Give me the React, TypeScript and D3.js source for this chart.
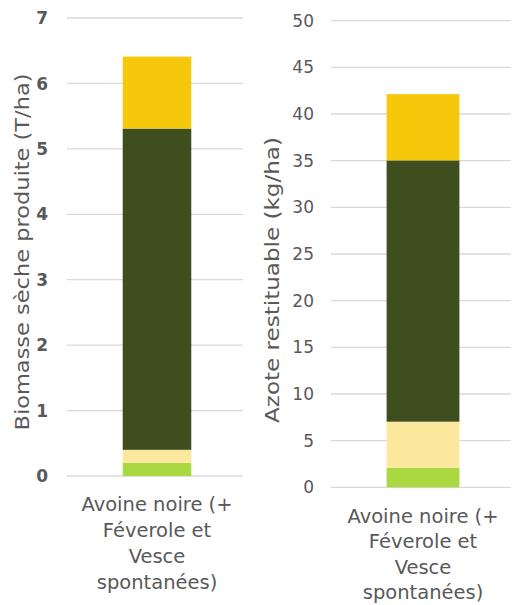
import React, { useEffect, useRef } from 'react';
import * as d3 from 'd3';

// Data
const categoryLines = ['Avoine noire (+', 'Féverole et', 'Vesce', 'spontanées)'];
const seriesKeys = ['s1', 's2', 's3', 's4'];
const seriesColors = ['#A9D841', '#FCE89C', '#3F4E1F', '#F5C80B'];
const biomassValues = [0.2, 0.2, 4.91, 1.1];
const azoteValues = [2.1, 4.93, 28.0, 7.1];
const biomassTicks = [0, 1, 2, 3, 4, 5, 6, 7];
const azoteTicks = [0, 5, 10, 15, 20, 25, 30, 35, 40, 45, 50];

const TEXT = '#595959';
const GRID = '#D9D9D9';
const FONT = '"DejaVu Sans", sans-serif';

type Panel = {
  values: number[];
  ticks: number[];
  max: number;
  title: string;
  titleX: number;
  titleY: number;
  titleLen: number;
  gridX: [number, number];
  bandX: [number, number];
  padding: number;
  yRange: [number, number];
  tickX: number;
  tickBold: boolean;
  labelY: number;
  labelStep: number;
};

const panels: Panel[] = [
  {
    values: biomassValues,
    ticks: biomassTicks,
    max: 7,
    title: 'Biomasse sèche produite (T/ha)',
    titleX: 22,
    titleY: 252,
    titleLen: 357,
    gridX: [67, 243],
    bandX: [71, 243],
    padding: 0.43,
    yRange: [476, 18],
    tickX: 48,
    tickBold: true,
    labelY: 511,
    labelStep: 26,
  },
  {
    values: azoteValues,
    ticks: azoteTicks,
    max: 50,
    title: 'Azote restituable (kg/ha)',
    titleX: 272,
    titleY: 280,
    titleLen: 286,
    gridX: [331, 511],
    bandX: [336, 510],
    padding: 0.41,
    yRange: [487.3, 20.7],
    tickX: 314,
    tickBold: false,
    labelY: 523,
    labelStep: 25.3,
  },
];

export default function App() {
  const svgRef = useRef<SVGSVGElement>(null);

  useEffect(() => {
    if (!svgRef.current) return;
    const root = d3.select(svgRef.current);
    root.selectAll('*').remove();

    panels.forEach(p => {
      const g = root.append('g');

      const y = d3.scaleLinear().domain([0, p.max]).range(p.yRange);
      const x = d3
        .scaleBand<string>()
        .domain([categoryLines.join(' ')])
        .range(p.bandX)
        .padding(p.padding);

      // gridlines
      g.selectAll('.grid')
        .data(p.ticks)
        .enter()
        .append('line')
        .attr('x1', p.gridX[0])
        .attr('x2', p.gridX[1])
        .attr('y1', d => y(d))
        .attr('y2', d => y(d))
        .attr('stroke', GRID)
        .attr('stroke-width', 1.3);

      // tick labels
      g.selectAll('.tick')
        .data(p.ticks)
        .enter()
        .append('text')
        .attr('x', p.tickX)
        .attr('y', d => y(d))
        .attr('dy', '0.36em')
        .attr('text-anchor', 'end')
        .attr('font-family', FONT)
        .attr('font-size', 17)
        .attr('font-weight', p.tickBold ? 'bold' : 'normal')
        .attr('fill', TEXT)
        .text(d => d);

      // stacked bar
      const row: Record<string, number> = {};
      seriesKeys.forEach((k, i) => (row[k] = p.values[i]));
      const stacked = d3.stack<Record<string, number>>().keys(seriesKeys)([row]);
      const cat = x.domain()[0];

      g.selectAll('.seg')
        .data(stacked)
        .enter()
        .append('rect')
        .attr('x', x(cat) || 0)
        .attr('width', x.bandwidth())
        .attr('y', d => y(d[0][1]))
        .attr('height', d => y(d[0][0]) - y(d[0][1]))
        .attr('fill', (_, i) => seriesColors[i]);

      // axis title
      g.append('text')
        .attr('transform', `translate(${p.titleX},${p.titleY}) rotate(-90)`)
        .attr('text-anchor', 'middle')
        .attr('dy', '0.36em')
        .attr('font-family', FONT)
        .attr('font-size', 19)
        .attr('fill', TEXT)
        .attr('textLength', p.titleLen)
        .attr('lengthAdjust', 'spacingAndGlyphs')
        .text(p.title);

      // category label
      const cx = (x(cat) || 0) + x.bandwidth() / 2;
      g.selectAll('.cat')
        .data(categoryLines)
        .enter()
        .append('text')
        .attr('x', cx)
        .attr('y', (_, i) => p.labelY + i * p.labelStep)
        .attr('text-anchor', 'middle')
        .attr('font-family', FONT)
        .attr('font-size', 19.5)
        .attr('fill', TEXT)
        .text(d => d);
    });
  }, []);

  return (
    <svg
      ref={svgRef}
      width={512}
      height={605}
      style={{ position: 'absolute', left: 0, top: 0, background: '#fff' }}
    ></svg>
  );
}
